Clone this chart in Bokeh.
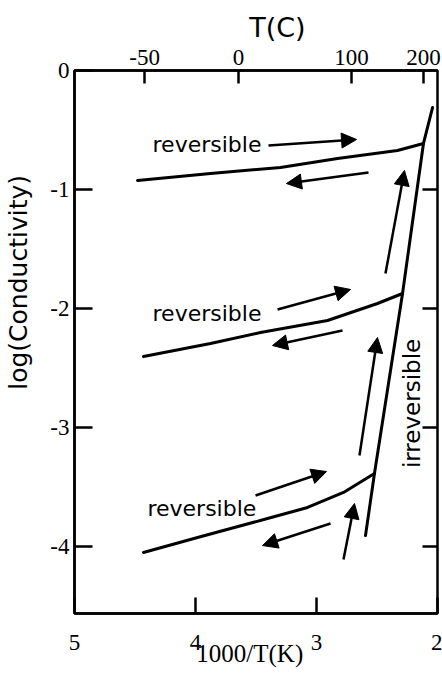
import math
from bokeh.plotting import figure
from bokeh.models import (Range1d, LinearAxis, FixedTicker, Arrow,
                          NormalHead, ColumnDataSource)
from bokeh.embed import file_html
from bokeh.resources import INLINE
from bokeh.core.properties import value

# ---- data ----
top_x = [4.479, 3.876, 3.298, 2.826, 2.331, 2.116]
top_y = [-0.924, -0.866, -0.815, -0.739, -0.672, -0.613]
mid_x = [4.430, 3.876, 3.463, 2.909, 2.496, 2.289]
mid_y = [-2.403, -2.294, -2.202, -2.101, -1.958, -1.874]
bot_x = [4.430, 3.983, 3.405, 3.074, 2.777, 2.521]
bot_y = [-4.050, -3.924, -3.765, -3.672, -3.546, -3.387]
irr_x = [2.041, 2.116, 2.289, 2.521, 2.595]
irr_y = [-0.311, -0.613, -1.874, -3.387, -3.908]

arrow_x0 = [3.397, 2.570, 2.430, 3.322, 2.785, 2.645, 3.504, 2.884, 2.777]
arrow_y0 = [-0.630, -0.857, -1.706, -2.008, -2.185, -3.235, -3.571, -3.807, -4.109]
arrow_x1 = [2.669, 3.248, 2.273, 2.719, 3.364, 2.496, 2.917, 3.446, 2.686]
arrow_y1 = [-0.580, -0.950, -0.840, -1.840, -2.311, -2.244, -3.370, -3.992, -3.639]

rev_x = [4.355, 4.355, 4.397]
rev_y = [-0.62, -2.04, -3.68]
rev_text = ["reversible", "reversible", "reversible"]

irr_label_x = [2.207]
irr_label_y = [-2.798]
irr_label_text = ["irreversible"]

x_ticks = [5, 4, 3, 2]
y_ticks = [0, -1, -2, -3, -4]
y_ticks_right = [-1, -2, -3, -4]
temps_c = [-50, 0, 100, 200]
# positions of the T(C) ticks on the 1000/T scale, as drawn in the figure
top_tick_pos = [4.42, 3.645, 2.71, 2.116]

NB = "\u00a0"

# ---- figure ----
p = figure(width=442, height=673, x_range=Range1d(5, 2), y_range=Range1d(-4.563, 0),
           output_backend="svg", toolbar_location=None)
p.min_border_left = 74
p.min_border_right = 5
p.min_border_top = 70
p.min_border_bottom = 60
p.grid.visible = False
p.outline_line_color = "black"
p.outline_line_width = 2.5
p.background_fill_color = "white"
p.border_fill_color = "white"

tick_font = "Liberation Serif"
tick_size = "23px"

def style_axis(ax, tick_in, standoff):
    ax.axis_line_color = "black"
    ax.axis_line_width = 2.5
    ax.major_tick_line_width = 2.5
    ax.major_tick_line_color = "black"
    ax.major_tick_in = tick_in
    ax.major_tick_out = 0
    ax.minor_tick_in = 0
    ax.minor_tick_out = 0
    ax.major_label_standoff = standoff
    ax.major_label_text_font = tick_font
    ax.major_label_text_font_size = tick_size
    ax.major_label_text_color = "black"
    ax.axis_label_text_color = "black"
    ax.axis_label_text_font_style = "normal"

xb = p.xaxis[0]
xb.ticker = FixedTicker(ticks=x_ticks)
xb.major_label_overrides = {t: str(t) for t in x_ticks}
style_axis(xb, 16, 21)
xb.axis_label = "1000/T(K)" + NB * 2
xb.axis_label_text_font = "Liberation Serif"
xb.axis_label_text_font_size = "25px"
xb.axis_label_standoff = -13

yl = p.yaxis[0]
yl.ticker = FixedTicker(ticks=y_ticks)
yl.major_label_overrides = {t: str(t) for t in y_ticks}
style_axis(yl, 18, 5)
yl.axis_label = NB * 15 + "log(Conductivity)"
yl.axis_label_text_font = "DejaVu Sans"
yl.axis_label_text_font_size = "25px"
yl.axis_label_standoff = 14

xt = LinearAxis(ticker=FixedTicker(ticks=top_tick_pos),
                major_label_overrides={k: str(t) for k, t in zip(top_tick_pos, temps_c)})
style_axis(xt, 13, 6)
xt.axis_label = NB * 5 + "T(C)"
xt.axis_label_text_font = "DejaVu Sans"
xt.axis_label_text_font_size = "27px"
xt.axis_label_standoff = 4
p.add_layout(xt, "above")

# right-hand ticks (inward, unlabeled)
tick_len = 15 / 121.0
p.segment(x0=[2.0] * len(y_ticks_right), y0=y_ticks_right,
          x1=[2.0 + tick_len] * len(y_ticks_right), y1=y_ticks_right,
          line_width=2.5, line_color="black")

# ---- curves ----
for xs, ys in [(top_x, top_y), (mid_x, mid_y), (bot_x, bot_y), (irr_x, irr_y)]:
    p.line(xs, ys, line_width=3, line_color="black", line_join="round", line_cap="round")

# ---- arrows ----
asrc = ColumnDataSource(dict(x0=arrow_x0, y0=arrow_y0, x1=arrow_x1, y1=arrow_y1))
p.add_layout(Arrow(x_start="x0", y_start="y0", x_end="x1", y_end="y1", source=asrc,
                   line_width=2.5, line_color="black",
                   end=NormalHead(size=15, fill_color="black", line_color="black", line_width=1)))

# ---- in-plot texts ----
p.text(x=rev_x, y=rev_y, text=rev_text, text_font=value("DejaVu Sans"),
       text_font_size="22px", text_align="left", text_baseline="alphabetic", text_color="black")
p.text(x=irr_label_x, y=irr_label_y, text=irr_label_text, text_font=value("DejaVu Sans"),
       text_font_size="23px", text_align="center", text_baseline="middle",
       angle=math.pi / 2, text_color="black")

open("out.html", "w").write(file_html(p, INLINE))
